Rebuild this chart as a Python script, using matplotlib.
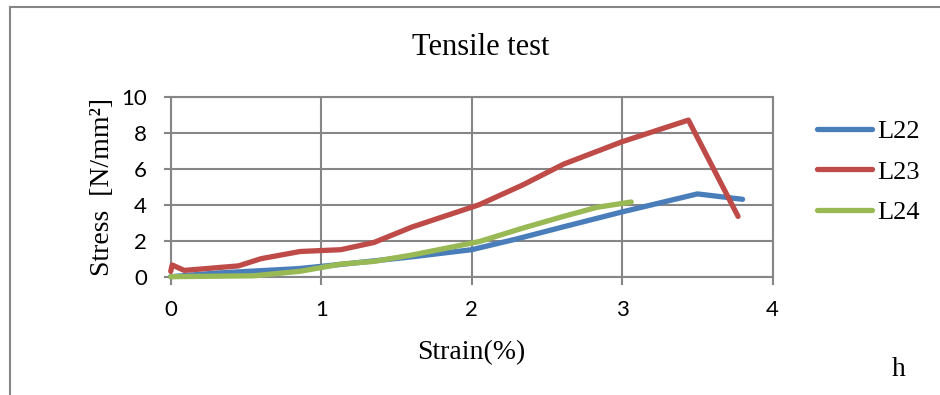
import matplotlib
matplotlib.use("Agg")
import matplotlib.pyplot as plt
from matplotlib.lines import Line2D

# strain (%) / stress (N/mm2) readings for each specimen
l22_strain = [0, 0.3, 0.85, 1.15, 1.6, 2.0, 2.3, 2.6, 3.0, 3.5, 3.8]
l22_stress = [0, 0.2, 0.45, 0.7, 1.1, 1.5, 2.1, 2.75, 3.6, 4.6, 4.3]

l23_strain = [0, 0.01, 0.09, 0.45, 0.6, 0.86, 1.13, 1.35, 1.6, 2.05, 2.34, 2.61, 3.0, 3.44, 3.77]
l23_stress = [0.3, 0.65, 0.35, 0.6, 1.0, 1.4, 1.5, 1.9, 2.75, 4.0, 5.1, 6.25, 7.5, 8.7, 3.35]

l24_strain = [0, 0.55, 0.86, 1.13, 1.35, 1.6, 2.05, 2.34, 2.61, 2.83, 3.06]
l24_stress = [0, 0.05, 0.3, 0.7, 0.85, 1.2, 1.95, 2.7, 3.35, 3.85, 4.15]

series = [("L22", l22_strain, l22_stress, "#4A7EBB"),
          ("L23", l23_strain, l23_stress, "#BE4B48"),
          ("L24", l24_strain, l24_stress, "#98B954")]

x_ticks = [0, 1, 2, 3, 4]
y_ticks = [0, 2, 4, 6, 8, 10]

grey = "#868686"
serif = "Liberation Serif"

fig = plt.figure(figsize=(9.4, 3.95), dpi=100)
ax = fig.add_axes([0.1816, 0.2995, 0.6404, 0.4557])

for name, xs, ys, col in series:
    ax.plot(xs, ys, color=col, lw=3.8, solid_capstyle="round",
            solid_joinstyle="round", label=name, clip_on=False, zorder=3)

ax.set_xlim(0, 4)
ax.set_ylim(0, 10)
ax.set_xticks(x_ticks)
ax.set_yticks(y_ticks)
ax.grid(True, color=grey, lw=1.5)
ax.set_axisbelow(True)
for s in ax.spines.values():
    s.set_color(grey)
    s.set_linewidth(1.5)
ax.tick_params(axis="x", direction="out", length=6, width=1.5, color=grey, pad=11)
ax.tick_params(axis="y", direction="out", length=5, width=1.5, color=grey, pad=12)
for t in ax.get_xticklabels() + ax.get_yticklabels():
    t.set_fontfamily("Lato")
    t.set_fontsize(16)

ax.set_xlabel("Strain(%)", fontfamily=serif, fontsize=20)
ax.xaxis.set_label_coords(0.5, -0.35)
ax.set_ylabel("Stress  [N/mm²]", fontfamily=serif, fontsize=20, va="center")
ax.yaxis.set_label_coords(-0.113, 0.5)

fig.text(481 / 940, 0.881, "Tensile test", fontfamily=serif, fontsize=22,
         ha="center", va="center")
fig.text(899 / 940, 1 - 369 / 395, "h", fontfamily=serif, fontsize=20,
         ha="center", va="center")

fig.legend(loc="center left", bbox_to_anchor=(817 / 940, 1 - 172 / 395),
           frameon=False, borderpad=0, borderaxespad=0, handlelength=2.1,
           handletextpad=0.2, labelspacing=0.65,
           prop={"family": serif, "size": 19})

# outer frame (left and top edges)
fig.add_artist(Line2D([9.5 / 940, 9.5 / 940], [0, 1 - 6.5 / 395],
                      transform=fig.transFigure, color=grey, lw=1.5))
fig.add_artist(Line2D([9.5 / 940, 1], [1 - 6.5 / 395, 1 - 6.5 / 395],
                      transform=fig.transFigure, color=grey, lw=1.5))

fig.savefig("out.png", dpi=100)
